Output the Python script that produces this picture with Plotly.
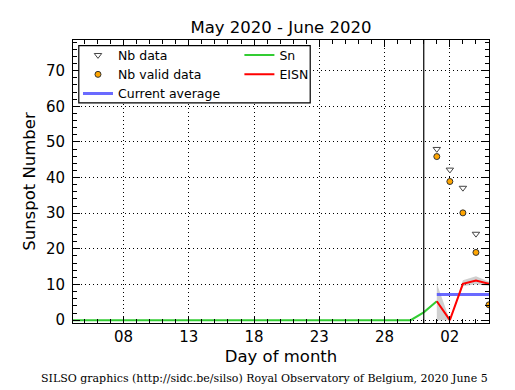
import plotly.graph_objects as go
import pandas as pd

# ---------------- data ----------------
sn_dates = list(pd.date_range("2020-05-01", "2020-06-01", freq="D"))
sn_values = [0, 0, 0, 0, 0, 0, 0, 0, 0, 0,
             0, 0, 0, 0, 0, 0, 0, 0, 0, 0,
             0, 0, 0, 0, 0, 0, 0, 0, 0, 0,
             2.2, 5.3]

recent_dates = ["2020-06-01", "2020-06-02", "2020-06-03", "2020-06-04", "2020-06-05"]
eisn_values = [5.3, 0.0, 10.2, 11.1, 10.2]
eisn_low = [0.0, 0.0, 9.5, 10.1, 9.6]
eisn_high = [10.3, 0.0, 11.2, 12.3, 10.8]

nb_data_dates = ["2020-06-01", "2020-06-02", "2020-06-03", "2020-06-04"]
nb_data_values = [48.0, 42.2, 37.1, 24.2]
nb_valid_values = [45.9, 38.9, 30.1, 19.0, 4.3]

avg_dates = ["2020-06-01", "2020-06-05"]
avg_values = [7.2, 7.2]

current_day = "2020-05-31"

xtick_vals = ["2020-05-08", "2020-05-13", "2020-05-18", "2020-05-23", "2020-05-28", "2020-06-02"]
xtick_text = ["08", "13", "18", "23", "28", "02"]
ytick_vals = [0, 10, 20, 30, 40, 50, 60, 70]
ytick_text = ["0", "10", "20", "30", "40", "50", "60", "70"]

title_text = "May 2020 - June 2020"
footer_text = "SILSO graphics (http://sidc.be/silso) Royal Observatory of Belgium, 2020 June 5"

FONT = "DejaVu Sans"

# page offset (browser body margin)
OFF = 8
W, H = 515, 390
PL, PR, PT, PB = 72.5, 489, 40, 323.5   # plot area in window pixels
ml = PL - OFF
mt = PT - OFF
mr = W - (PR - OFF)
mb = H - (PB - OFF)
pw = PR - PL
ph = PB - PT


def px_x(x):
    return (x - PL) / pw


def px_y(y):
    return 1 - (y - PT) / ph


fig = go.Figure()

# grey uncertainty band
fig.add_trace(go.Scatter(x=recent_dates, y=eisn_high, mode="lines",
                         line=dict(width=0, color="rgba(0,0,0,0)"),
                         showlegend=False, hoverinfo="skip"))
fig.add_trace(go.Scatter(x=recent_dates, y=eisn_low, mode="lines",
                         line=dict(width=0, color="rgba(0,0,0,0)"),
                         fill="tonexty", fillcolor="rgba(170,170,170,0.55)",
                         showlegend=False, hoverinfo="skip"))

# Sn
fig.add_trace(go.Scatter(x=sn_dates, y=sn_values, mode="lines", name="Sn",
                         line=dict(color="#33cc33", width=2),
                         legend="legend2", legendrank=1))
# current average
fig.add_trace(go.Scatter(x=avg_dates, y=avg_values, mode="lines", name="Current average",
                         line=dict(color="rgba(80,80,255,0.85)", width=3),
                         legend="legend", legendrank=3))
# EISN
fig.add_trace(go.Scatter(x=recent_dates, y=eisn_values, mode="lines", name="EISN",
                         line=dict(color="#ff0000", width=2),
                         legend="legend2", legendrank=2))
# Nb data
fig.add_trace(go.Scatter(x=nb_data_dates, y=nb_data_values, mode="markers", name="Nb data",
                         marker=dict(symbol="triangle-down", size=6.5, color="white",
                                     line=dict(color="#444444", width=1)),
                         legend="legend", legendrank=1))
# Nb valid data
fig.add_trace(go.Scatter(x=recent_dates, y=nb_valid_values, mode="markers", name="Nb valid data",
                         marker=dict(symbol="circle", size=6, color="#ffa500",
                                     line=dict(color="#333333", width=1)),
                         legend="legend", legendrank=2))

# vertical line marking the current day
fig.add_shape(type="line", xref="x", yref="paper", x0=current_day, x1=current_day,
              y0=0, y1=1, line=dict(color="black", width=1.2), layer="above")

# legend frame
fig.add_shape(type="rect", xref="paper", yref="paper",
              x0=px_x(78.3), x1=px_x(310), y0=px_y(103), y1=px_y(45.7),
              line=dict(color="black", width=1.2), fillcolor="white", layer="above")

axis_common = dict(
    showline=True, linecolor="black", linewidth=1, mirror="ticks",
    ticks="inside", ticklen=7, tickcolor="black", tickwidth=1,
    showgrid=True, gridcolor="black", gridwidth=1, griddash="1px,3px",
    zeroline=False,
    tickfont=dict(family=FONT, size=15, color="black"),
)

fig.update_xaxes(
    type="date",
    range=["2020-05-04 03:00", "2020-06-05"],
    tickmode="array", tickvals=xtick_vals, ticktext=xtick_text,
    minor=dict(ticks="inside", ticklen=4, tickcolor="black", dtick=86400000,
               tick0="2020-05-01", showgrid=False),
    title=dict(text="Day of month", font=dict(family=FONT, size=16.5, color="black"), standoff=5),
    ticklabelstandoff=0,
    **axis_common,
)
fig.update_yaxes(
    range=[-0.8, 78.6],
    tickmode="array", tickvals=ytick_vals, ticktext=ytick_text,
    minor=dict(ticks="inside", ticklen=4, tickcolor="black", dtick=2, tick0=0, showgrid=False),
    title=dict(text="Sunspot Number", font=dict(family=FONT, size=16.5, color="black"), standoff=6),
    ticklabelstandoff=4,
    **axis_common,
)

legend_common = dict(
    bgcolor="rgba(0,0,0,0)", borderwidth=0,
    font=dict(family=FONT, size=12.5, color="black"),
    xref="paper", yref="paper", xanchor="left", yanchor="top",
    orientation="v", traceorder="normal", tracegroupgap=0,
)

fig.update_layout(
    width=W, height=H,
    margin=dict(l=ml, r=mr, t=mt, b=mb),
    paper_bgcolor="white", plot_bgcolor="white",
    font=dict(family=FONT, color="black"),
    title=dict(text=title_text, x=0.5, xref="paper", xanchor="center",
               y=1 - (27 - OFF) / H, yref="container", yanchor="middle",
               font=dict(family=FONT, size=16.5, color="black")),
    legend=dict(x=0.012, y=px_y(40.5), **legend_common),
    legend2=dict(x=0.40, y=px_y(40.5), **legend_common),
    showlegend=True,
    annotations=[dict(text=footer_text, xref="paper", yref="paper",
                      x=px_x(264), y=px_y(379), xanchor="center", yanchor="middle",
                      showarrow=False,
                      font=dict(family="DejaVu Serif", size=11, color="black"))],
)

fig.write_html("out.html")
